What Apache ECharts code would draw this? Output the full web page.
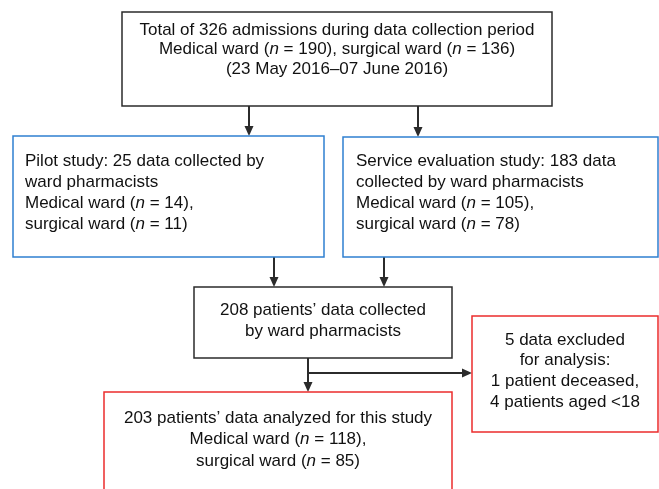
<!DOCTYPE html>
<html>
<head>
<meta charset="utf-8">
<script src="https://cdn.jsdelivr.net/npm/echarts@6/dist/echarts.min.js"></script>
<style>
  html, body { margin: 0; padding: 0; background: #fff; }
  #main { width: 659px; height: 489px; }
</style>
</head>
<body>
<div id="main"></div>
<script>
// box texts ({i|n} = italic n)
var topLines = [
  'Total of 326 admissions during data collection period',
  'Medical ward ({i|n} = 190), surgical ward ({i|n} = 136)',
  '(23 May 2016\u201307 June 2016)'
];
var pilotLines = [
  'Pilot study: 25 data collected by',
  'ward pharmacists',
  'Medical ward ({i|n} = 14),',
  'surgical ward ({i|n} = 11)'
];
var serviceLines = [
  'Service evaluation study: 183 data',
  'collected by ward pharmacists',
  'Medical ward ({i|n} = 105),',
  'surgical ward ({i|n} = 78)'
];
var mergedLines = [
  '208 patients\u2019 data collected',
  'by ward pharmacists'
];
var excludedLines = [
  '5 data excluded',
  'for analysis:',
  '1 patient deceased,',
  '4 patients aged <18'
];
var analyzedLines = [
  '203 patients\u2019 data analyzed for this study',
  'Medical ward ({i|n} = 118),',
  'surgical ward ({i|n} = 85)'
];

var chart = echarts.init(document.getElementById('main'));

var FONT = '"Liberation Sans", Arial, sans-serif';
var DARK = '#2b2b2b';
var BLUE = '#2f80d1';
var RED = '#ec2d2d';
var FS = 17;

var els = [];

function box(x, y, w, h, color) {
  els.push({
    type: 'rect',
    shape: { x: x, y: y, width: w, height: h },
    style: { fill: '#fff', stroke: color, lineWidth: 1.5 }
  });
}

function lines(arr, x, y0, step, align) {
  arr.forEach(function (t, i) {
    els.push({
      type: 'text',
      x: x,
      y: y0 + i * step,
      style: {
        text: t,
        font: FS + 'px ' + FONT,
        fill: '#111',
        align: align,
        verticalAlign: 'middle',
        rich: {
          i: { fontStyle: 'italic', fontSize: FS, fontFamily: FONT, fill: '#111' }
        }
      }
    });
  });
}

function seg(x1, y1, x2, y2) {
  els.push({
    type: 'line',
    shape: { x1: x1, y1: y1, x2: x2, y2: y2 },
    style: { stroke: DARK, lineWidth: 2 }
  });
}

function arrowDown(x, y1, y2) {
  seg(x, y1, x, y2 - 8);
  els.push({
    type: 'polygon',
    shape: { points: [[x - 4.5, y2 - 10], [x + 4.5, y2 - 10], [x, y2]] },
    style: { fill: DARK }
  });
}

function arrowRight(x1, x2, y) {
  seg(x1, y, x2 - 8, y);
  els.push({
    type: 'polygon',
    shape: { points: [[x2 - 10, y - 4.5], [x2 - 10, y + 4.5], [x2, y]] },
    style: { fill: DARK }
  });
}

// connectors
arrowDown(249, 106, 136);
arrowDown(418, 106, 137);
arrowDown(274, 257, 287);
arrowDown(384, 257, 287);
arrowDown(308, 358, 392);
arrowRight(308, 472, 373);

// boxes + text
box(122, 12, 430, 94, DARK);
lines(topLines, 337, 30, 19.5, 'center');

box(13, 136, 311, 121, BLUE);
lines(pilotLines, 25, 161, 21, 'left');

box(343, 137, 315, 120, BLUE);
lines(serviceLines, 356, 161, 21, 'left');

box(194, 287, 258, 71, DARK);
lines(mergedLines, 323, 310, 21, 'center');

box(472, 316, 186, 116, RED);
lines(excludedLines, 565, 340, 20.7, 'center');

box(104, 392, 348, 110, RED);
lines(analyzedLines, 278, 418, 21.5, 'center');

chart.setOption({
  backgroundColor: '#ffffff',
  animation: false,
  graphic: { elements: els }
});
</script>
</body>
</html>
